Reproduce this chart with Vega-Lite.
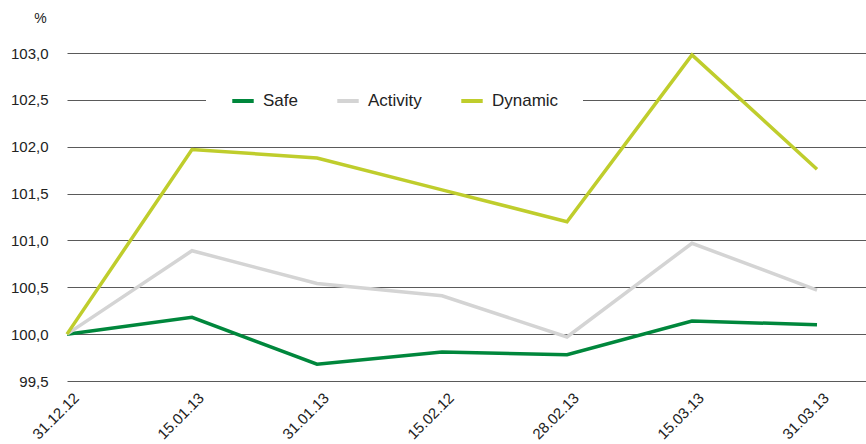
{
  "$schema": "https://vega.github.io/schema/vega-lite/v6.json",
  "width": 799,
  "height": 328,
  "autosize": {"type": "none"},
  "padding": {"left": 67, "top": 53, "right": 0, "bottom": 63},
  "background": "white",
  "config": {
    "view": {"stroke": null},
    "font": "Liberation Sans"
  },
  "data": {
    "values": [
      {"date": "31.12.12", "series": "Safe", "value": 100.0},
      {"date": "15.01.13", "series": "Safe", "value": 100.18},
      {"date": "31.01.13", "series": "Safe", "value": 99.68},
      {"date": "15.02.12", "series": "Safe", "value": 99.81},
      {"date": "28.02.13", "series": "Safe", "value": 99.78},
      {"date": "15.03.13", "series": "Safe", "value": 100.14},
      {"date": "31.03.13", "series": "Safe", "value": 100.10},
      {"date": "31.12.12", "series": "Activity", "value": 100.0},
      {"date": "15.01.13", "series": "Activity", "value": 100.89},
      {"date": "31.01.13", "series": "Activity", "value": 100.54},
      {"date": "15.02.12", "series": "Activity", "value": 100.41},
      {"date": "28.02.13", "series": "Activity", "value": 99.97},
      {"date": "15.03.13", "series": "Activity", "value": 100.97},
      {"date": "31.03.13", "series": "Activity", "value": 100.47},
      {"date": "31.12.12", "series": "Dynamic", "value": 100.0},
      {"date": "15.01.13", "series": "Dynamic", "value": 101.97},
      {"date": "31.01.13", "series": "Dynamic", "value": 101.88},
      {"date": "15.02.12", "series": "Dynamic", "value": 101.54},
      {"date": "28.02.13", "series": "Dynamic", "value": 101.20},
      {"date": "15.03.13", "series": "Dynamic", "value": 102.98},
      {"date": "31.03.13", "series": "Dynamic", "value": 101.76}
    ]
  },
  "mark": {"type": "line", "strokeWidth": 3.5, "strokeJoin": "miter"},
  "encoding": {
    "x": {
      "field": "date",
      "type": "ordinal",
      "sort": null,
      "scale": {"type": "point", "padding": 0.196, "align": 0},
      "axis": {
        "title": null,
        "domain": false,
        "ticks": false,
        "grid": false,
        "labelAngle": -45,
        "labelAlign": "right",
        "labelBaseline": "top",
        "labelPadding": 9,
        "labelOffset": 4,
        "labelFontSize": 15,
        "labelColor": "#222222"
      }
    },
    "y": {
      "field": "value",
      "type": "quantitative",
      "scale": {"domain": [99.5, 103], "nice": false, "zero": false},
      "axis": {
        "values": [99.5, 100, 100.5, 101, 101.5, 102, 102.5, 103],
        "labelExpr": "replace(format(datum.value, '.1f'), '.', ',')",
        "domain": false,
        "ticks": false,
        "grid": true,
        "gridColor": "#5a5a5a",
        "gridWidth": 1,
        "labelPadding": 19,
        "labelFontSize": 15,
        "labelColor": "#222222",
        "title": "%",
        "titleAngle": 0,
        "titleX": -27,
        "titleY": -35,
        "titleAlign": "center",
        "titleBaseline": "middle",
        "titleFontSize": 14,
        "titleFontWeight": "normal",
        "titleColor": "#222222"
      }
    },
    "color": {
      "field": "series",
      "type": "nominal",
      "scale": {
        "domain": ["Safe", "Activity", "Dynamic"],
        "range": ["#00873c", "#d4d4d4", "#bfcd2c"]
      },
      "legend": {
        "title": null,
        "orient": "none",
        "direction": "horizontal",
        "legendX": 139,
        "legendY": 11,
        "fillColor": "white",
        "padding": 24,
        "symbolType": "stroke",
        "symbolStrokeWidth": 4,
        "symbolSize": 460,
        "labelFontSize": 17,
        "labelColor": "#222222",
        "labelOffset": 7,
        "columnPadding": 31
      }
    }
  }
}
